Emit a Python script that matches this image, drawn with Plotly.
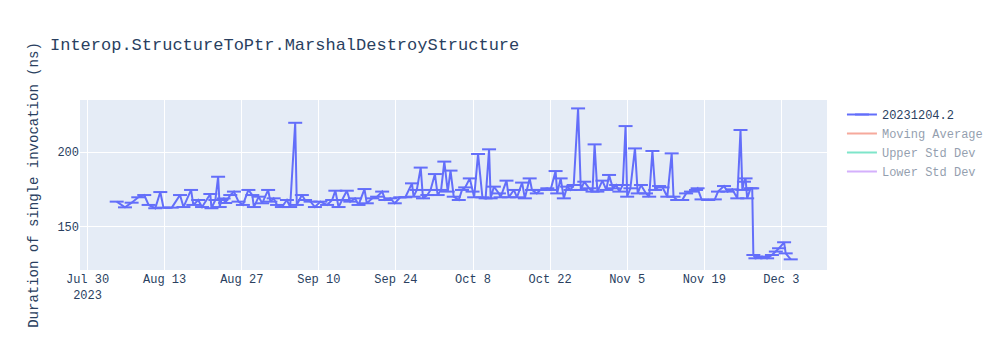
import plotly.graph_objects as go

dates = [
    "2023-08-04 07:00", "2023-08-05 19:00", "2023-08-07 00:00", "2023-08-08 05:00", "2023-08-09 07:00",
    "2023-08-10 02:00", "2023-08-11 07:00", "2023-08-12 05:00", "2023-08-12 19:00", "2023-08-14 07:00",
    "2023-08-15 19:00", "2023-08-16 10:00", "2023-08-17 19:00", "2023-08-18 05:00", "2023-08-19 02:00",
    "2023-08-19 19:00", "2023-08-21 07:00", "2023-08-21 12:00", "2023-08-22 05:00", "2023-08-22 17:00",
    "2023-08-23 00:00", "2023-08-23 07:00", "2023-08-23 17:00", "2023-08-24 00:00", "2023-08-24 22:00",
    "2023-08-25 14:00", "2023-08-26 10:00", "2023-08-27 05:00", "2023-08-28 05:00", "2023-08-28 22:00",
    "2023-08-29 05:00", "2023-08-30 02:00", "2023-08-30 17:00", "2023-08-31 19:00", "2023-09-01 05:00",
    "2023-09-01 19:00", "2023-09-02 10:00", "2023-09-03 07:00", "2023-09-04 05:00", "2023-09-04 19:00",
    "2023-09-05 17:00", "2023-09-06 00:00", "2023-09-06 22:00", "2023-09-07 12:00", "2023-09-08 12:00",
    "2023-09-09 07:00", "2023-09-10 07:00", "2023-09-11 12:00", "2023-09-12 10:00", "2023-09-13 00:00",
    "2023-09-13 14:00", "2023-09-14 05:00", "2023-09-15 02:00", "2023-09-15 17:00", "2023-09-16 14:00",
    "2023-09-17 05:00", "2023-09-18 07:00", "2023-09-18 17:00", "2023-09-19 17:00", "2023-09-20 14:00",
    "2023-09-21 12:00", "2023-09-22 02:00", "2023-09-23 00:00", "2023-09-23 19:00", "2023-09-24 19:00",
    "2023-09-25 17:00", "2023-09-26 22:00", "2023-09-27 05:00", "2023-09-27 19:00", "2023-09-28 12:00",
    "2023-09-28 22:00", "2023-09-29 17:00", "2023-09-30 07:00", "2023-10-01 02:00", "2023-10-01 14:00",
    "2023-10-02 05:00", "2023-10-02 19:00", "2023-10-03 10:00", "2023-10-03 22:00", "2023-10-04 12:00",
    "2023-10-05 10:00", "2023-10-06 00:00", "2023-10-06 14:00", "2023-10-07 10:00", "2023-10-07 22:00",
    "2023-10-08 05:00", "2023-10-08 22:00", "2023-10-09 17:00", "2023-10-10 07:00", "2023-10-10 22:00",
    "2023-10-11 05:00", "2023-10-11 19:00", "2023-10-12 17:00", "2023-10-13 00:00", "2023-10-14 02:00",
    "2023-10-14 12:00", "2023-10-15 10:00", "2023-10-16 00:00", "2023-10-16 22:00", "2023-10-17 10:00",
    "2023-10-18 07:00", "2023-10-18 17:00", "2023-10-19 14:00", "2023-10-20 05:00", "2023-10-21 12:00",
    "2023-10-22 02:00", "2023-10-23 00:00", "2023-10-23 07:00", "2023-10-23 22:00", "2023-10-24 12:00",
    "2023-10-25 02:00", "2023-10-25 17:00", "2023-10-26 07:00", "2023-10-27 02:00", "2023-10-27 14:00",
    "2023-10-28 05:00", "2023-10-29 02:00", "2023-10-29 17:00", "2023-10-30 02:00", "2023-10-30 14:00",
    "2023-10-31 12:00", "2023-11-01 05:00", "2023-11-01 17:00", "2023-11-02 10:00", "2023-11-03 00:00",
    "2023-11-03 14:00", "2023-11-04 05:00", "2023-11-04 17:00", "2023-11-05 00:00", "2023-11-05 14:00",
    "2023-11-06 10:00", "2023-11-06 22:00", "2023-11-07 12:00", "2023-11-08 10:00", "2023-11-09 00:00",
    "2023-11-09 14:00", "2023-11-10 02:00", "2023-11-10 19:00", "2023-11-11 10:00", "2023-11-12 07:00",
    "2023-11-13 02:00", "2023-11-13 10:00", "2023-11-14 02:00", "2023-11-15 00:00", "2023-11-15 17:00",
    "2023-11-16 14:00", "2023-11-17 12:00", "2023-11-17 19:00", "2023-11-18 12:00", "2023-11-19 17:00",
    "2023-11-20 22:00", "2023-11-21 12:00", "2023-11-22 14:00", "2023-11-23 05:00", "2023-11-24 02:00",
    "2023-11-25 00:00", "2023-11-25 14:00", "2023-11-25 22:00", "2023-11-26 05:00", "2023-11-26 12:00",
    "2023-11-26 19:00", "2023-11-27 10:00", "2023-11-27 17:00", "2023-11-27 22:00", "2023-11-28 07:00",
    "2023-11-29 12:00", "2023-11-30 10:00", "2023-12-01 07:00", "2023-12-02 00:00", "2023-12-02 14:00",
    "2023-12-03 12:00", "2023-12-03 19:00", "2023-12-04 17:00",
]

durations = [
    166.9, 163.1, 166.2, 169.8, 171.3,
    164.7, 162.5, 173.3, 162.9, 162.9,
    171.3, 163.3, 174.7, 164.7, 168.0,
    163.3, 172.0, 162.5, 168.0, 183.5,
    163.3, 168.0, 169.0, 166.0, 171.3,
    173.6, 166.9, 164.7, 174.7, 171.3,
    163.3, 170.2, 165.8, 174.7, 166.9,
    169.1, 164.7, 163.3, 168.0, 163.3,
    219.5, 164.7, 171.3, 168.0, 166.9,
    163.3, 166.9, 164.7, 168.0, 174.2,
    163.3, 168.0, 174.2, 166.9, 169.1,
    164.7, 175.3, 165.8, 169.1, 170.2,
    173.6, 168.0, 169.1, 165.8, 169.8,
    169.8, 179.1, 170.2, 174.7, 189.6,
    169.1, 171.3, 174.7, 185.3, 171.3,
    174.7, 193.6, 173.6, 187.6, 170.2,
    168.0, 174.7, 176.4, 182.4, 173.6,
    169.8, 198.7, 169.8, 169.1, 201.8,
    169.1, 176.9, 172.4, 169.8, 180.9,
    169.8, 174.7, 169.8, 179.6, 169.1,
    182.4, 174.7, 172.4, 174.7, 175.8,
    174.7, 187.3, 172.4, 182.4, 169.1,
    176.9, 174.7, 178.0, 229.1, 174.7,
    180.2, 175.8, 173.6, 205.1, 173.6,
    180.9, 174.7, 184.7, 175.8, 178.0,
    173.6, 178.0, 217.3, 170.2, 175.8,
    202.4, 172.4, 178.0, 172.4, 170.2,
    200.7, 174.7, 177.3, 176.4, 170.2,
    199.1, 170.2, 168.0, 168.0, 172.4,
    173.6, 174.7, 175.8, 168.4, 168.0,
    168.4, 173.6, 177.3, 173.6, 175.1,
    169.1, 214.7, 174.7, 180.2, 182.4,
    169.1, 175.8, 175.8, 131.3, 129.1,
    130.2, 129.1, 131.3, 133.6, 135.8,
    139.8, 132.4, 128.4,
]

# hidden (legend-only) reference series, a few approximate points
ref_dates = ["2023-08-04", "2023-09-05", "2023-10-05", "2023-11-05", "2023-11-27", "2023-12-04"]
moving_avg = [166.0, 167.0, 174.0, 178.0, 176.0, 131.0]
upper_std = [171.0, 180.0, 185.0, 192.0, 190.0, 137.0]
lower_std = [161.0, 158.0, 163.0, 164.0, 162.0, 126.0]

series_name = "20231204.2"
title_text = "Interop.StructureToPtr.MarshalDestroyStructure"
y_title = "Duration of single invocation (ns)"

fig = go.Figure()
fig.add_trace(go.Scatter(
    x=dates, y=durations, name=series_name, mode="lines+markers",
    line=dict(color="#636efa", width=2),
    marker=dict(symbol="line-ew", size=10, color="#636efa",
                line=dict(color="#636efa", width=2)),
))
fig.add_trace(go.Scatter(x=ref_dates, y=moving_avg, name="Moving Average",
                         mode="lines", line=dict(color="#EF553B"), visible="legendonly"))
fig.add_trace(go.Scatter(x=ref_dates, y=upper_std, name="Upper Std Dev",
                         mode="lines", line=dict(color="#00cc96"), visible="legendonly"))
fig.add_trace(go.Scatter(x=ref_dates, y=lower_std, name="Lower Std Dev",
                         mode="lines", line=dict(color="#ab63fa"), visible="legendonly"))

fig.update_layout(
    template="plotly",
    width=1000, height=350,
    font=dict(family="Liberation Mono, Courier New, monospace"),
    title=dict(text=title_text),
    yaxis=dict(title=dict(text=y_title), range=[121.3, 234.7]),
    xaxis=dict(range=["2023-07-28 15:00", "2023-12-11 07:00"]),
)

fig.write_html("out.html")
